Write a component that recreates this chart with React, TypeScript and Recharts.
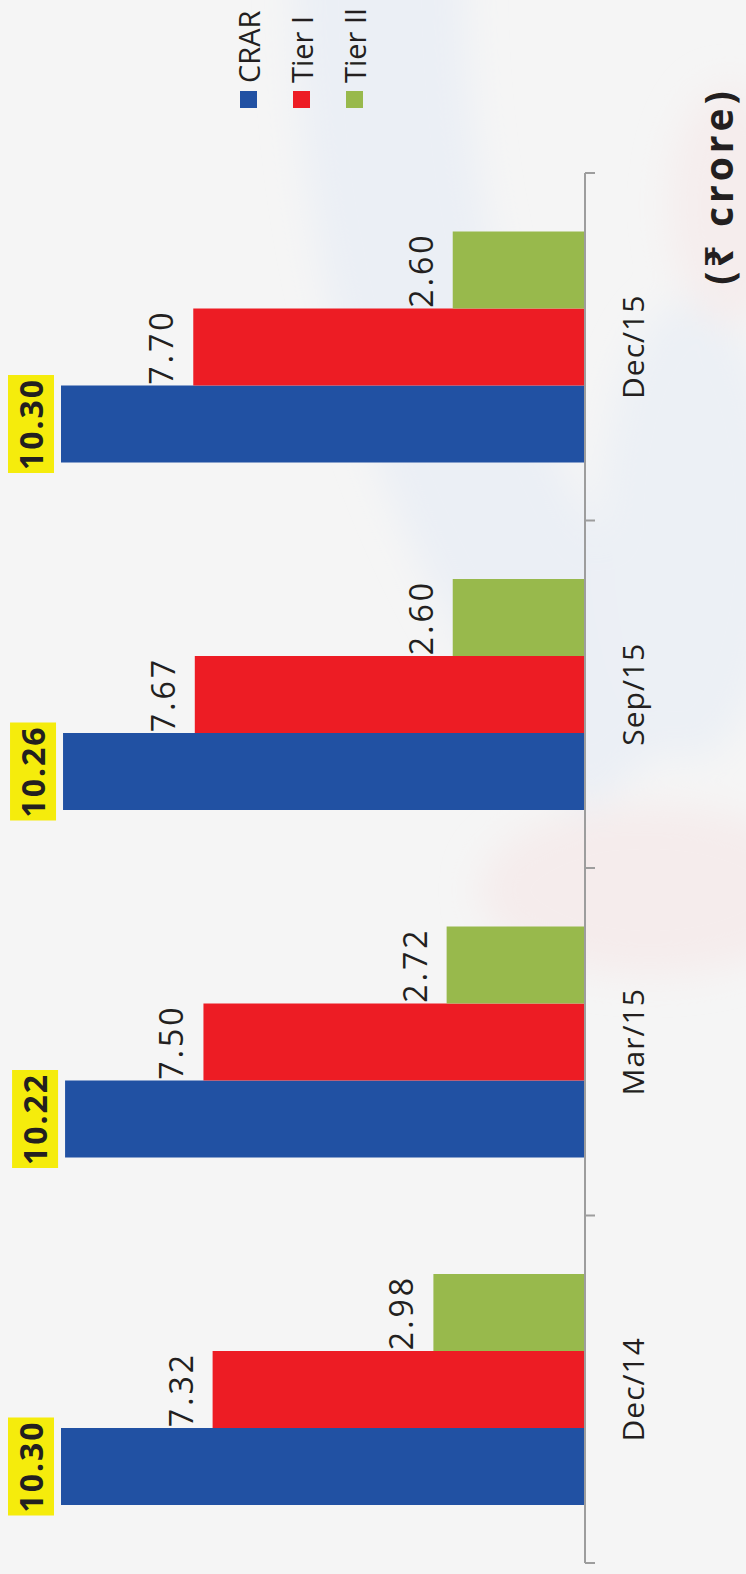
import { Bar, BarChart, XAxis, YAxis, Legend, LabelList } from "recharts";

const categories = ["Dec/14", "Mar/15", "Sep/15", "Dec/15"];
const crar = [10.3, 10.22, 10.26, 10.3];
const tier1 = [7.32, 7.5, 7.67, 7.7];
const tier2 = [2.98, 2.72, 2.6, 2.6];
const seriesNames = ["CRAR", "Tier I", "Tier II"];
const unitLabel = "(₹ crore)";

const data = categories.map((name, i) => ({
    name,
    crar: crar[i],
    tier1: tier1[i],
    tier2: tier2[i],
}));

// chart is drawn landscape, then turned a quarter to the left
const W = 1574;
const H = 746;
const margin = { top: 61, right: 173, bottom: 0, left: 11 };
const band = (W - margin.left - margin.right) / categories.length;

const colors = ["#2151a3", "#ed1c24", "#98b94c"];
const ink = "#231f20";
const axisGray = "#9d9d9d";
const font = "'Open Sans', 'Noto Sans', 'DejaVu Sans', sans-serif";

function CategoryTick(props: any) {
    const { x, y, payload, index } = props;
    return (
        <g>
            <line x1={x - band / 2} x2={x - band / 2} y1={y} y2={y + 10} stroke={axisGray} strokeWidth={2} />
            {index === categories.length - 1 && (
                <line x1={x + band / 2} x2={x + band / 2} y1={y} y2={y + 10} stroke={axisGray} strokeWidth={2} />
            )}
            <text x={x} y={y + 59} textAnchor="middle" fontSize={30} fill={ink} fontFamily={font} letterSpacing={1}>
                {payload.value}
            </text>
        </g>
    );
}

function HighlightLabel(props: any) {
    const { x, y, width, value } = props;
    const cx = x + width / 2;
    return (
        <g>
            <rect x={cx - 49} y={y - 53} width={98} height={46} fill="#f5ec0c" />
            <text
                x={cx}
                y={y - 18}
                textAnchor="middle"
                fontSize={32}
                fontWeight={700}
                fill={ink}
                fontFamily={font}
                letterSpacing={2}
            >
                {Number(value).toFixed(2)}
            </text>
        </g>
    );
}

function LegendBox() {
    return (
        <div style={{ fontFamily: font }}>
            {seriesNames.map((n, i) => (
                <div key={n} style={{ display: "flex", alignItems: "center", height: 53 }}>
                    <div style={{ width: 17, height: 17, background: colors[i], marginRight: 8 }} />
                    <span style={{ fontSize: 29, color: ink, lineHeight: 1, whiteSpace: "nowrap" }}>{n}</span>
                </div>
            ))}
        </div>
    );
}

export default function App() {
    return (
        <div
            style={{
                position: "absolute",
                left: 0,
                top: 0,
                width: H,
                height: W,
                overflow: "hidden",
                background: "#f5f5f5",
            }}
        >
            {/* faint watermark behind the chart, in page coordinates */}
            <svg width={H} height={W} style={{ position: "absolute", left: 0, top: 0 }}>
                <defs>
                    <filter id="soft" x="-50%" y="-50%" width="200%" height="200%">
                        <feGaussianBlur stdDeviation={18} />
                    </filter>
                </defs>
                <g filter="url(#soft)">
                    <path d="M 380 -60 Q 370 430 650 760" fill="none" stroke="#ebeff5" strokeWidth={170} />
                    <ellipse cx={690} cy={530} rx={90} ry={230} fill="#ecf0f5" />
                    <ellipse cx={730} cy={205} rx={60} ry={120} fill="#f5eded" />
                    <ellipse cx={650} cy={890} rx={170} ry={85} fill="#f5ecec" />
                </g>
            </svg>
            <div
                style={{
                    position: "absolute",
                    left: 0,
                    top: 0,
                    width: W,
                    height: H,
                    transformOrigin: "0 0",
                    transform: `translateY(${W}px) rotate(-90deg)`,
                }}
            >
                <div style={{ position: "absolute", left: 0, top: 0 }}>
                    <BarChart width={W} height={H} data={data} margin={margin} barGap={0} barSize={77}>
                        <XAxis
                            dataKey="name"
                            height={161}
                            tickSize={0}
                            tickMargin={0}
                            tick={<CategoryTick />}
                            axisLine={{ stroke: axisGray, strokeWidth: 2 }}
                            interval={0}
                        />
                        <YAxis hide domain={[0, 10.3]} />
                        <Legend
                            layout="vertical"
                            align="center"
                            verticalAlign="middle"
                            content={() => <LegendBox />}
                            wrapperStyle={{ left: 1466, top: 222, width: 140, height: 160 }}
                        />
                        <Bar dataKey="crar" name="CRAR" fill={colors[0]} isAnimationActive={false}>
                            <LabelList dataKey="crar" content={<HighlightLabel />} />
                        </Bar>
                        <Bar dataKey="tier1" name="Tier I" fill={colors[1]} isAnimationActive={false}>
                            <LabelList
                                dataKey="tier1"
                                position="top"
                                offset={20}
                                formatter={(v: any) => Number(v).toFixed(2)}
                                style={{ fontSize: 32, fill: ink, fontFamily: font, letterSpacing: 3 }}
                            />
                        </Bar>
                        <Bar dataKey="tier2" name="Tier II" fill={colors[2]} isAnimationActive={false}>
                            <LabelList
                                dataKey="tier2"
                                position="top"
                                offset={20}
                                formatter={(v: any) => Number(v).toFixed(2)}
                                style={{ fontSize: 32, fill: ink, fontFamily: font, letterSpacing: 3 }}
                            />
                        </Bar>
                    </BarChart>
                </div>
                <svg width={W} height={H} style={{ position: "absolute", left: 0, top: 0, pointerEvents: "none" }}>
                    <text
                        x={1388}
                        y={733}
                        textAnchor="middle"
                        fontSize={39}
                        fontWeight={700}
                        fill={ink}
                        fontFamily={font}
                        letterSpacing={4}
                    >
                        {unitLabel}
                    </text>
                </svg>
            </div>
        </div>
    );
}
